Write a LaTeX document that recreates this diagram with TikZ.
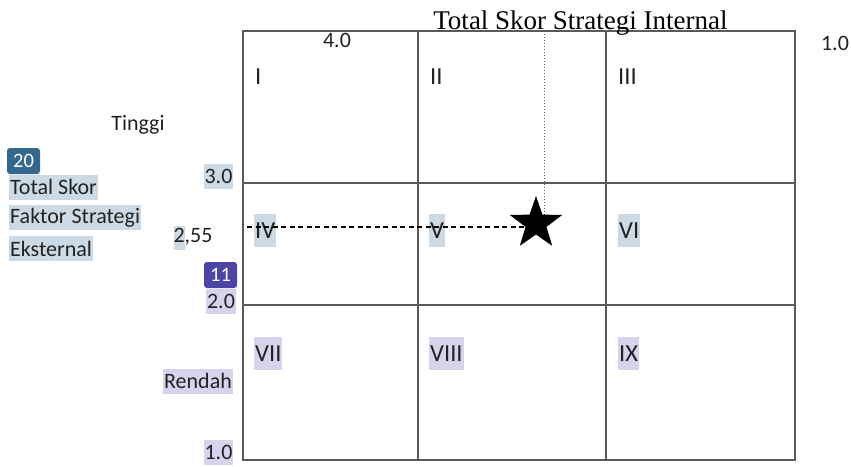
\documentclass[tikz,border=0pt]{standalone}
\usepackage{fontspec}
\setmainfont{Carlito}
\newfontfamily\titlefont{Liberation Serif}
\usetikzlibrary{shapes.geometric,positioning}
\definecolor{markblue}{HTML}{CCDAE5}
\definecolor{markviolet}{HTML}{D6D3EC}
\definecolor{badgeblue}{HTML}{35688F}
\definecolor{badgeviolet}{HTML}{4B45A8}
\definecolor{gridgray}{HTML}{5A5A5A}
\definecolor{inkdark}{HTML}{222222}
\tikzset{
  cellline/.style={draw=gridgray,line width=1.2pt},
  lbl/.style={inner sep=1pt,minimum height=25pt,font=\fontsize{22}{24}\selectfont,text=inkdark},
  bluemark/.style={lbl,fill=markblue},
  violetmark/.style={lbl,fill=markviolet},
  zone/.style={anchor=west,inner sep=1pt,minimum height=33pt,font=\fontsize{24.5}{26}\selectfont,text=inkdark},
  bluezone/.style={zone,fill=markblue},
  violetzone/.style={zone,fill=markviolet},
  badge/.style={rounded corners=3pt,text=white,font=\fontsize{20.5}{22}\selectfont,minimum width=33pt,minimum height=26pt,inner sep=1pt},
  guide/.style={line width=1.2pt,dash pattern=on 5pt off 3.5pt}
}
\begin{document}
\begin{tikzpicture}[x=1pt,y=-1pt]
  \useasboundingbox (0,0) rectangle (851,466);
  % matrix grid
  \draw[cellline] (243,31) rectangle (795,460);
  \foreach \gx in {418,606} \draw[cellline] (\gx,31) -- (\gx,460);
  \foreach \gy in {183,305} \draw[cellline] (243,\gy) -- (795,\gy);
  % title and axis values
  \node[font=\titlefont\fontsize{27}{28}\selectfont,anchor=base] (title) at (580.5,29) {Total Skor Strategi Internal};
  \node[lbl] (ifhigh) at (337,40) {4.0};
  \node[lbl] (iflow) at (835,43) {1.0};
  \node[lbl] (tinggi) at (138,125) {Tinggi};
  \node[badge,fill=badgeblue] (b20) at (23.5,161) {20};
  \node[bluemark,anchor=west] (efa) at (9,187) {Total Skor};
  \node[bluemark,anchor=west] (efb) at (9,217.5) {Faktor Strategi};
  \node[bluemark,anchor=west] (efc) at (9,248.5) {Eksternal};
  \node[bluemark] (ef3) at (218.5,176.5) {3.0};
  \node[lbl] (efpos) at (193,238) {\setlength\fboxsep{0pt}\colorbox{markblue}{\strut 2},55};
  \node[badge,fill=badgeviolet] (b11) at (220.5,275) {11};
  \node[violetmark] (ef2) at (221,301) {2.0};
  \node[violetmark] (rendah) at (198,381) {Rendah};
  \node[violetmark] (ef1) at (218.5,452) {1.0};
  % cells
  \node[zone] (c1) at (254,77) {I};
  \node[zone] (c2) at (429,77) {II};
  \node[zone] (c3) at (617,77) {III};
  \node[bluezone] (c4) at (254,230.5) {IV};
  \node[bluezone] (c5) at (429,230.5) {V};
  \node[bluezone] (c6) at (618,230.5) {VI};
  \node[violetzone] (c7) at (254,353.5) {VII};
  \node[violetzone] (c8) at (429,353.5) {VIII};
  \node[violetzone] (c9) at (618,353.5) {IX};
  % position
  \coordinate (topmark) at (544,31);
  \coordinate (leftmark) at (247,227);
  \draw[gridgray,line width=1pt,dotted] (topmark) -- (topmark |- 0,232);
  \draw[guide] (leftmark) -- (leftmark -| 530,0);
  \node[star,star points=5,star point ratio=2.5,fill=black,minimum size=55pt,inner sep=0pt] (pos) at (536,223.5) {};
\end{tikzpicture}
\end{document}
